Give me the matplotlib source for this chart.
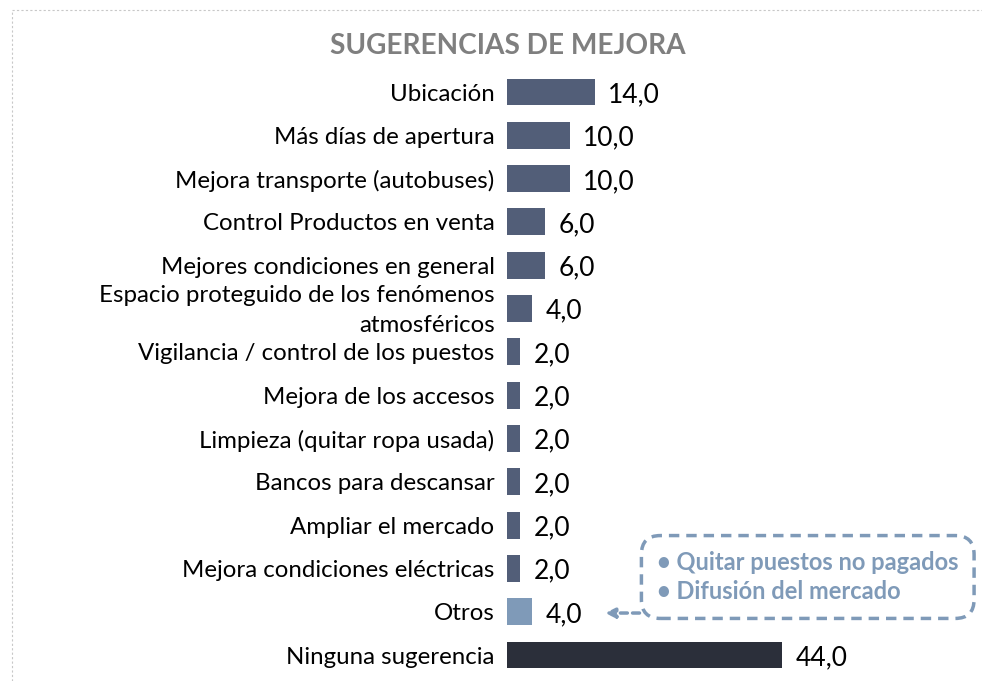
import numpy as np
import matplotlib.pyplot as plt
from matplotlib.lines import Line2D

# data
categorias = ['Ubicación', 'Más días de apertura', 'Mejora transporte (autobuses)',
              'Control Productos en venta', 'Mejores condiciones en general',
              'Espacio proteguido de los fenómenos\natmosféricos',
              'Vigilancia / control de los puestos', 'Mejora de los accesos',
              'Limpieza (quitar ropa usada)', 'Bancos para descansar',
              'Ampliar el mercado', 'Mejora condiciones eléctricas',
              'Otros', 'Ninguna sugerencia']
valores = [14.0, 10.0, 10.0, 6.0, 6.0, 4.0, 2.0, 2.0, 2.0, 2.0, 2.0, 2.0, 4.0, 44.0]
otros_detalle = ['Quitar puestos no pagados', 'Difusión del mercado']

colores = ['#525e78'] * 12 + ['#7f9ab8', '#2b2f3a']

plt.rcParams['font.family'] = ['Lato', 'DejaVu Sans']

W, H = 982, 681
fig = plt.figure(figsize=(W / 100, H / 100), dpi=100)

# axes placed so that bars start at x=507px, 6.25 px per unit
left = 507 / W
width = 75 * 6.25 / W
top_px, bot_px = 70.3, 676.7
ax = fig.add_axes([left, 1 - bot_px / H, width, (bot_px - top_px) / H])

y = np.arange(len(categorias))
ax.barh(y, valores, height=0.62, color=colores)
ax.set_xlim(0, 75)
ax.set_ylim(len(categorias) - 0.5, -0.5)
ax.axis('off')

for i, (c, v) in enumerate(zip(categorias, valores)):
    ax.annotate(c, xy=(0, i), xytext=(-9, -1.5), textcoords='offset points',
                ha='right', va='center', fontsize=17.3, color='black',
                multialignment='right', linespacing=1.5)
    ax.annotate(f'{v:.1f}'.replace('.', ','), xy=(v, i), xytext=(10, -2),
                textcoords='offset points', ha='left', va='center',
                fontsize=19, color='black')

fig.text(508 / W, 1 - 46 / H, 'SUGERENCIAS DE MEJORA', ha='center', va='center',
         fontsize=20.2, fontweight='bold', color='#7f7f7f')

# call-out box for "Otros"
i_otros = categorias.index('Otros')
txt = '\n'.join('• ' + s for s in otros_detalle)
fig.text(657 / W, 1 - 577 / H, txt, ha='left', va='center', fontsize=17,
         fontweight='bold', color='#7f9ab8', linespacing=1.3,
         bbox=dict(boxstyle='round,pad=0.66,rounding_size=0.8', fc='white',
                   ec='#7f9ab8', lw=2.5, ls=(0, (3, 2))))
ax.annotate('', xy=(15.7, i_otros + 0.03), xytext=(21.2, i_otros + 0.03),
            arrowprops=dict(arrowstyle='-|>', color='#7f9ab8', lw=2.5,
                            ls=(0, (2, 1.5)), shrinkA=0, shrinkB=0,
                            mutation_scale=14))

# dotted outer frame
fig.add_artist(Line2D([12 / W, 12 / W], [0, 1 - 10 / H], transform=fig.transFigure,
                      color='#c8c8c8', lw=0.8, ls=(0, (2, 2))))
fig.add_artist(Line2D([12 / W, 1], [1 - 10 / H, 1 - 10 / H], transform=fig.transFigure,
                      color='#c8c8c8', lw=0.8, ls=(0, (2, 2))))

fig.savefig('out.png', dpi=100)
